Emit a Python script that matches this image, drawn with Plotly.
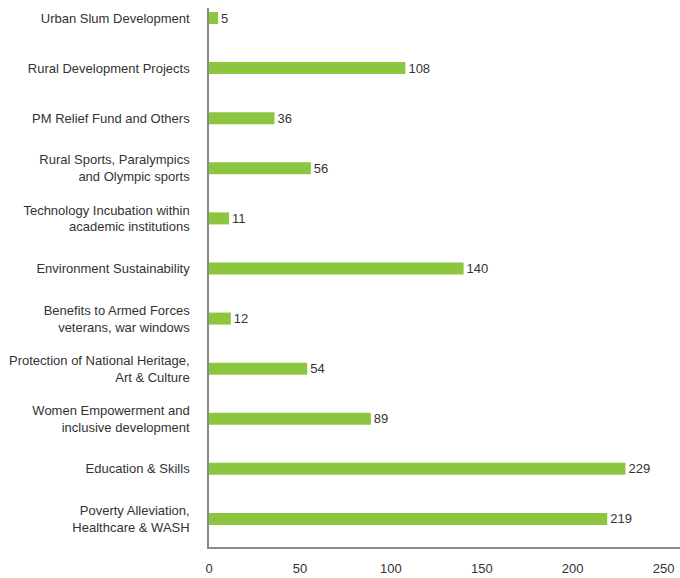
import plotly.graph_objects as go

# CSR spend by development sector (bottom to top as drawn)
sectors = [
    "Poverty Alleviation,<br>Healthcare & WASH",
    "Education & Skills",
    "Women Empowerment and<br>inclusive development",
    "Protection of National Heritage,<br>Art & Culture",
    "Benefits to Armed Forces<br>veterans, war windows",
    "Environment Sustainability",
    "Technology Incubation within<br>academic institutions",
    "Rural Sports, Paralympics<br>and Olympic sports",
    "PM Relief Fund and Others",
    "Rural Development Projects",
    "Urban Slum Development",
]
amounts = [219, 229, 89, 54, 12, 140, 11, 56, 36, 108, 5]
x_ticks = [0, 50, 100, 150, 200, 250]

FONT = "Liberation Sans Narrow, Arial Narrow, Liberation Sans, Arial, sans-serif"
GREEN = "#8CC63F"
AXIS = "#8a8a8a"
TEXT = "#333333"

fig = go.Figure(
    go.Bar(
        x=amounts,
        y=sectors,
        orientation="h",
        marker=dict(color=GREEN, line=dict(width=0)),
        width=0.24,
        text=[str(v) for v in amounts],
        textposition="outside",
        constraintext="none",
        textfont=dict(family=FONT, size=13, color=TEXT),
        cliponaxis=False,
        hoverinfo="skip",
    )
)

fig.update_layout(
    width=680,
    height=578,
    margin=dict(l=209, r=0, t=8, b=31, autoexpand=False),
    paper_bgcolor="white",
    plot_bgcolor="white",
    showlegend=False,
    font=dict(family=FONT, size=13, color=TEXT),
)

fig.update_xaxes(
    range=[0, 259],
    tickvals=x_ticks,
    ticktext=[str(t) for t in x_ticks],
    showgrid=False,
    zeroline=False,
    showline=True,
    linecolor=AXIS,
    linewidth=1.5,
    ticks="outside",
    ticklen=9,
    tickcolor="rgba(0,0,0,0)",
    tickfont=dict(family=FONT, size=13, color=TEXT),
    automargin=False,
)

fig.update_yaxes(
    type="category",
    categoryorder="array",
    categoryarray=sectors,
    range=[-0.56, 10.2],
    showgrid=False,
    zeroline=False,
    showline=True,
    linecolor=AXIS,
    linewidth=1.5,
    ticks="outside",
    ticklen=15,
    tickcolor="rgba(0,0,0,0)",
    tickfont=dict(family=FONT, size=13, color=TEXT),
    automargin=False,
)

fig.write_html("out.html")
